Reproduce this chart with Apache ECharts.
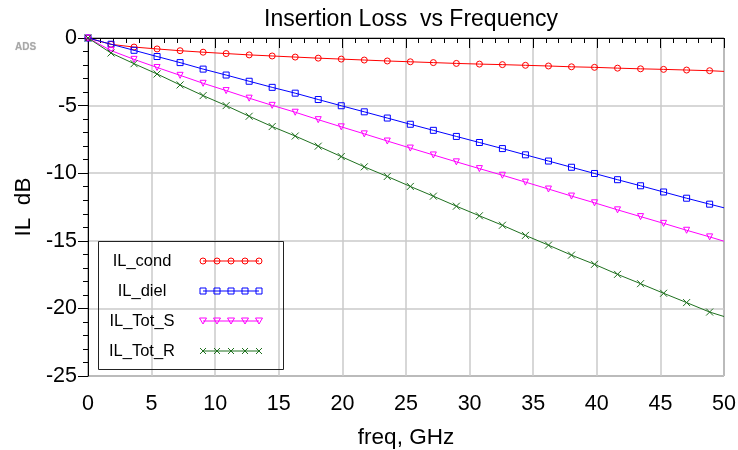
<!DOCTYPE html>
<html><head><meta charset="utf-8">
<script src="https://cdn.jsdelivr.net/npm/echarts@6/dist/echarts.min.js"></script>
<style>html,body{margin:0;padding:0;background:#fff}#c{width:738px;height:450px}</style>
</head><body><div id="c"></div>
<script>
// frequency points (GHz): marker positions, last point is the sweep end (no marker)
const freq = [0, 1.81, 3.62, 5.43, 7.24, 9.05, 10.86, 12.67, 14.48, 16.29, 18.10, 19.91, 21.72, 23.53,
  25.34, 27.15, 28.96, 30.77, 32.58, 34.39, 36.20, 38.01, 39.82, 41.63, 43.44, 45.25, 47.06, 48.87, 50];
const ilCond = [0, -0.47, -0.67, -0.81, -0.94, -1.05, -1.15, -1.25, -1.33, -1.41, -1.49, -1.56, -1.63, -1.70,
  -1.76, -1.82, -1.88, -1.93, -1.97, -2.02, -2.07, -2.13, -2.17, -2.23, -2.28, -2.32, -2.37, -2.42, -2.47];
const ilDiel = [0, -0.46, -0.91, -1.37, -1.82, -2.30, -2.74, -3.20, -3.65, -4.08, -4.55, -5.01, -5.46, -5.92,
  -6.38, -6.83, -7.28, -7.73, -8.18, -8.64, -9.10, -9.56, -10.02, -10.48, -10.93, -11.39, -11.85, -12.29, -12.56];
const ilTotS = [0, -0.93, -1.58, -2.18, -2.76, -3.35, -3.89, -4.45, -4.98, -5.49, -6.04, -6.57, -7.09, -7.62,
  -8.14, -8.65, -9.16, -9.66, -10.15, -10.66, -11.17, -11.69, -12.19, -12.71, -13.21, -13.71, -14.22, -14.71, -15.03];
const ilTotR = [0, -1.11, -1.90, -2.66, -3.47, -4.26, -5.00, -5.79, -6.55, -7.25, -8.00, -8.77, -9.53, -10.24,
  -10.98, -11.70, -12.44, -13.15, -13.85, -14.60, -15.32, -16.06, -16.74, -17.48, -18.17, -18.88, -19.57, -20.27, -20.60];
const seriesNames = ['IL_cond', 'IL_diel', 'IL_Tot_S', 'IL_Tot_R'];
const xTicks = { min: 0, max: 50, step: 5 };
const yTicks = { min: -25, max: 0, step: 5 };

const FONT = '"Liberation Sans", Arial, sans-serif';
const colors = ['#ff0000', '#0000ff', '#ff00ff', '#1f701f'];
const CROSS = 'path://M0,0L10,10M10,0L0,10';
const symbols = ['circle', 'rect', 'triangle', CROSS];
const symSizes = [6, 6, 6, 7];
const rotates = [0, 0, 180, 0];
const values = [ilCond, ilDiel, ilTotS, ilTotR];

function pts(arr) {
  return freq.map((f, i) => i === freq.length - 1 ? { value: [f, arr[i]], symbol: 'none' } : [f, arr[i]]);
}

const chart = echarts.init(document.getElementById('c'), null, { renderer: 'canvas' });

const series = seriesNames.map((n, k) => ({
  name: n, type: 'line', data: pts(values[k]),
  symbol: symbols[k], symbolSize: symSizes[k], symbolRotate: rotates[k], showAllSymbol: true,
  lineStyle: { color: colors[k], width: 1 },
  itemStyle: { color: 'rgba(255,255,255,0)', borderColor: colors[k], borderWidth: 1 },
  emphasis: { disabled: true }, z: 3 + k
}));

// legend drawn as a bordered box with sample lines and markers
const legendRows = [261, 291, 321, 351];
const lx = [203, 217, 231, 245, 259];
const legendEls = [{
  type: 'rect', shape: { x: 98.5, y: 241.5, width: 185, height: 128 },
  style: { fill: null, stroke: '#222', lineWidth: 1 }, z: 10
}];
function markerEl(k, x, y) {
  const c = colors[k];
  if (k === 0) return { type: 'circle', shape: { cx: x, cy: y, r: 3 }, style: { fill: null, stroke: c, lineWidth: 1 }, z: 11 };
  if (k === 1) return { type: 'rect', shape: { x: x - 3, y: y - 3, width: 6, height: 6 }, style: { fill: null, stroke: c, lineWidth: 1 }, z: 11 };
  if (k === 2) return { type: 'polygon', shape: { points: [[x - 3.5, y - 3], [x + 3.5, y - 3], [x, y + 3]] }, style: { fill: null, stroke: c, lineWidth: 1 }, z: 11 };
  return { type: 'group', z: 11, children: [
    { type: 'line', shape: { x1: x - 3, y1: y - 3, x2: x + 3, y2: y + 3 }, style: { stroke: c, lineWidth: 1 }, z: 11 },
    { type: 'line', shape: { x1: x + 3, y1: y - 3, x2: x - 3, y2: y + 3 }, style: { stroke: c, lineWidth: 1 }, z: 11 }
  ]};
}
seriesNames.forEach((n, k) => {
  const y = legendRows[k];
  legendEls.push({ type: 'text', x: 142, y: y, style: { text: n, fill: '#000', font: '16.5px ' + FONT, textAlign: 'center', textVerticalAlign: 'middle' }, z: 11 });
  legendEls.push({ type: 'line', shape: { x1: lx[0], y1: y, x2: lx[4], y2: y }, style: { stroke: colors[k], lineWidth: 1 }, z: 11 });
  lx.forEach(x => legendEls.push(markerEl(k, x, y)));
});
legendEls.push({ type: 'text', x: 15, y: 47, style: { text: 'ADS', fill: '#a8a8a8', font: 'bold 10px ' + FONT, textVerticalAlign: 'middle', textShadowColor: '#ccc', textShadowBlur: 1 }, z: 11 });

chart.setOption({
  animation: false,
  backgroundColor: '#fff',
  title: {
    text: 'Insertion Loss  vs Frequency', left: 406, top: 3, textAlign: 'center',
    textStyle: { fontFamily: FONT, fontSize: 23, fontWeight: 'normal', color: '#000' }
  },
  grid: { left: 88, top: 38, right: 14, bottom: 74, containLabel: false, outerBoundsMode: 'none',
    show: true, borderColor: '#222', borderWidth: 1, backgroundColor: 'transparent' },
  xAxis: {
    type: 'value', min: xTicks.min, max: xTicks.max, interval: xTicks.step,
    name: 'freq, GHz', nameLocation: 'middle', nameGap: 50,
    nameTextStyle: { fontFamily: FONT, fontSize: 22.5, color: '#000' },
    axisLine: { show: true, lineStyle: { color: '#000', width: 1 } },
    axisTick: { show: true, length: 10, lineStyle: { color: '#000', width: 1 } },
    minorTick: { show: true, splitNumber: 5, length: 5, lineStyle: { color: '#000', width: 1 } },
    splitLine: { show: true, lineStyle: { color: '#cacaca', width: 1.5 } },
    axisLabel: { fontFamily: FONT, fontSize: 21.5, color: '#000', margin: 17 }
  },
  yAxis: {
    type: 'value', min: yTicks.min, max: yTicks.max, interval: yTicks.step,
    name: 'IL  dB', nameLocation: 'middle', nameGap: 50,
    nameTextStyle: { fontFamily: FONT, fontSize: 22.5, color: '#000' },
    axisLine: { show: true, lineStyle: { color: '#000', width: 1 } },
    axisTick: { show: true, length: 10, lineStyle: { color: '#000', width: 1 } },
    minorTick: { show: true, splitNumber: 5, length: 5, lineStyle: { color: '#000', width: 1 } },
    splitLine: { show: true, lineStyle: { color: '#cacaca', width: 1.5 } },
    axisLabel: { fontFamily: FONT, fontSize: 21.5, color: '#000', margin: 11 }
  },
  series: series,
  graphic: { elements: legendEls }
});
</script>
</body></html>
